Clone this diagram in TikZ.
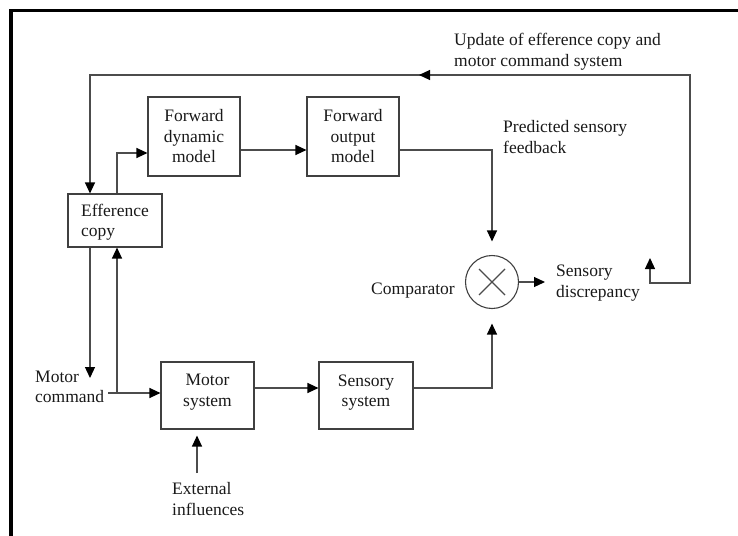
\documentclass[tikz,border=0pt]{standalone}
\usepackage{fontspec}
\setmainfont{Liberation Serif}
\usetikzlibrary{arrows.meta,calc}
\begin{document}
\begin{tikzpicture}[x=1pt,y=-1pt,
  >={Triangle[length=11pt,width=10pt,color=black]},
  txt/.style={font=\fontsize{17.5}{20.5}\selectfont, text=black!90},
  box/.style={txt, draw=black!75, line width=1.1pt, inner sep=0pt, align=center},
  lbl/.style={txt, inner sep=0pt, align=left},
  conn/.style={draw=black!70, line width=1.2pt},
  arr/.style={conn, ->}]
\useasboundingbox (0,0) rectangle (738,535);
% frame
\draw[line width=3.2pt, draw=black] (740,10.8) -- (11,10.8) -- (11,537);

% boxes
\node[box, align=left, text depth=0pt, minimum width=94pt, minimum height=53pt] (eff) at (115,220.5) {Efference\\copy};
\node[box, minimum width=92pt, minimum height=79pt] (fdm) at (194,136.5) {Forward\\dynamic\\model};
\node[box, minimum width=92pt, minimum height=79pt] (fom) at (353,136.5) {Forward\\output\\model};
\node[box, text depth=10pt, minimum width=93pt, minimum height=67pt] (mot) at (207.5,395.5) {Motor\\system};
\node[box, text depth=10pt, minimum width=94pt, minimum height=67pt] (sen) at (366,395.5) {Sensory\\system};
\node[circle, draw=black!75, line width=1.1pt, minimum size=53pt, inner sep=0pt] (cmp) at (492,282) {};
\draw[conn, line width=1.1pt] ($(cmp)+(-13,-13)$) -- ($(cmp)+(13,13)$);
\draw[conn, line width=1.1pt] ($(cmp)+(-13,13)$) -- ($(cmp)+(13,-13)$);

% labels
\node[lbl, anchor=west] (upd) at (454,51.5) {Update of efference copy and\\motor command system};
\node[lbl, anchor=west] (pred) at (503,137) {Predicted sensory\\feedback};
\node[lbl, anchor=east] (cmpl) at (455,291) {Comparator};
\node[lbl, anchor=west] (disc) at (556,283) {Sensory\\discrepancy};
\node[lbl, anchor=west] (mc) at (35,387) {Motor\\command};
\node[lbl, anchor=west] (ext) at (172,499) {External\\influences};

% coordinates
\coordinate (fbtip) at (650,258);
\coordinate (fbr) at (690,283);
\coordinate (fbl) at (90,75);
\coordinate (fbm) at (419,75);
\coordinate (ea) at (117,0);
\coordinate (mcl) at (90,378);
\coordinate (mcs) at (108,393);
\coordinate (cmpout) at (545,282);
\coordinate (exb) at (197,473);

% feedback loop
\draw[conn, <->] (fbtip) |- (fbr) |- (fbl) -- (fbl |- eff.north);
\draw[arr] (fbr |- fbl) -- (fbm);

% forward path
\draw[arr] (ea |- eff.north) |- ([yshift=-16.5pt]fdm.west);
\draw[arr] ([yshift=-13.5pt]fdm.east) -- ([yshift=-13.5pt]fom.west);
\draw[arr, shorten >=13.5pt] ([yshift=-13.5pt]fom.east) -| (cmp.north);

% motor path
\draw[arr] (mcl |- eff.south) -- (mcl);
\draw[arr] (ea |- mcs) -- (ea |- eff.south);
\draw[arr] (mcs) -- (mcs -| mot.west);
\draw[arr] ([yshift=7.5pt]mot.east) -- ([yshift=7.5pt]sen.west);
\draw[arr, shorten >=14.5pt] ([yshift=7.5pt]sen.east) -| (cmp.south);
\draw[arr] (cmp.east) -- (cmpout);
\draw[arr, shorten >=6pt] (exb) -- (exb |- mot.south);
\end{tikzpicture}
\end{document}
